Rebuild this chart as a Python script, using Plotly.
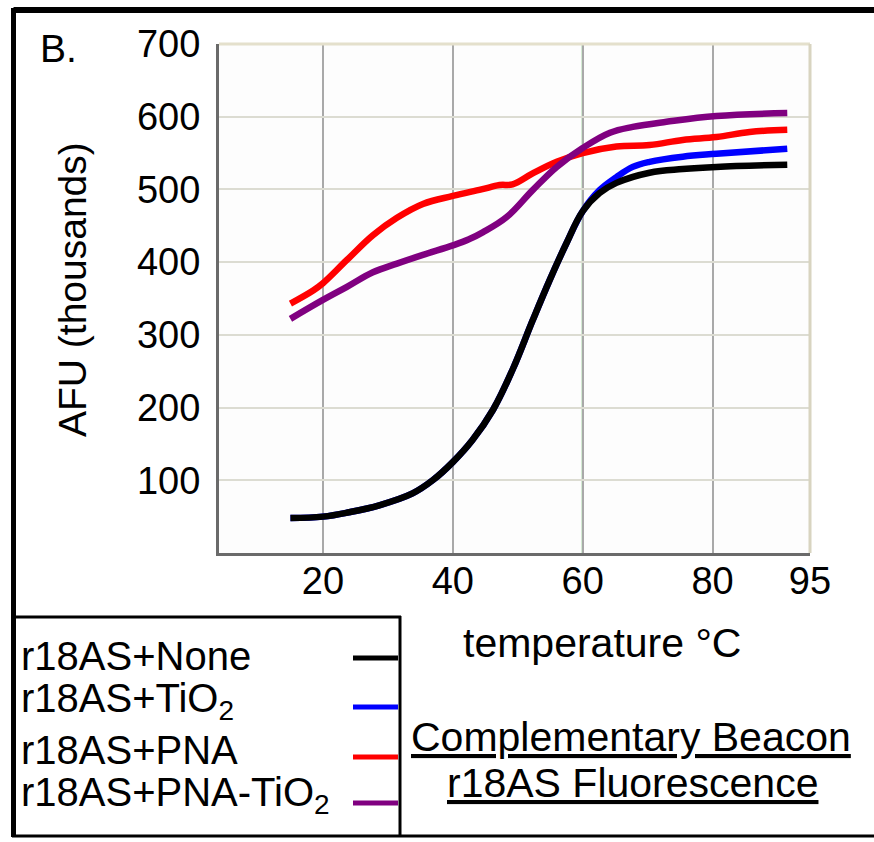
import plotly.graph_objects as go

# ---- data (temperature in °C, AFU in thousands) ----
none_x = [15, 20, 24, 28.8, 33.8, 36.9, 40, 43, 46.2, 49.2, 52.3, 54.9, 57.5, 60, 62.6, 65.2, 70.3, 75.4, 80.6, 91.5]
none_y = [48, 50, 56, 66, 82, 100, 125, 155, 197, 252, 320, 375, 426, 470, 495, 509, 523, 528, 531, 534]

tio2_x = [15, 20, 24, 28.8, 33.8, 36.9, 40, 43, 46.2, 49.2, 52.3, 54.9, 57.5, 60, 62.6, 65.2, 67.7, 70.3, 75.4, 80.6, 91.5]
tio2_y = [48, 50, 56, 66, 82, 100, 125, 155, 197, 252, 320, 375, 426, 470, 499, 517, 531, 538, 545, 549, 556]

pna_x = [15, 18.5, 20, 23.7, 27.7, 31.4, 35.4, 40, 44.4, 47.2, 49.2, 52.3, 56, 60, 65.2, 70.3, 75.4, 80.6, 85.7, 91.5]
pna_y = [343, 361, 371, 403, 437, 461, 480, 491, 500, 506, 507, 522, 538, 550, 559, 561, 568, 572, 579, 582]

pnatio2_x = [15, 20, 23.7, 27.7, 31.4, 35.4, 40, 42.4, 44.6, 48.3, 52.3, 56, 60, 64.2, 67.7, 72.9, 80.6, 91.5]
pnatio2_y = [322, 348, 366, 386, 398, 410, 423, 431, 441, 462, 499, 531, 557, 578, 586, 593, 601, 605]

series_names = ["r18AS+None", "r18AS+TiO<sub>2</sub>", "r18AS+PNA", "r18AS+PNA-TiO<sub>2</sub>"]
series_colors = ["#000000", "#0000ff", "#ff0000", "#800080"]

x_ticks = [20, 40, 60, 80, 95]
y_ticks = [100, 200, 300, 400, 500, 600, 700]

FONT = "Liberation Sans, Arial, sans-serif"
W, H = 874, 842
ML, MR, MT, MB = 219, 64, 44, 289
PW, PH = W - ML - MR, H - MT - MB


def px(xp):
    return (xp - ML) / PW


def py(yp):
    return (H - MB - yp) / PH


fig = go.Figure()
# draw order: blue under black, then red, then purple
order = [1, 0, 2, 3]
data = [(none_x, none_y), (tio2_x, tio2_y), (pna_x, pna_y), (pnatio2_x, pnatio2_y)]
for i in order:
    xs, ys = data[i]
    fig.add_trace(go.Scatter(x=xs, y=ys, mode="lines", name=series_names[i],
                             line=dict(color=series_colors[i], width=6.5, shape="spline", smoothing=1.1),
                             showlegend=False))

shapes = []
# green vertical gridline at 60
shapes.append(dict(type="line", xref="x", yref="paper", x0=60, x1=60, y0=0, y1=1,
                   line=dict(color="#7cc47c", width=2), layer="below"))
# top and right plot border (beige)
shapes.append(dict(type="line", xref="paper", yref="paper", x0=0, x1=1, y0=1, y1=1,
                   line=dict(color="#e4e0cc", width=3), layer="above"))
shapes.append(dict(type="line", xref="paper", yref="paper", x0=1, x1=1, y0=0, y1=1,
                   line=dict(color="#d8d4c0", width=3), layer="above"))
# outer frame
shapes.append(dict(type="line", xref="paper", yref="paper", x0=px(13.5), x1=px(874), y0=py(10), y1=py(10),
                   line=dict(color="black", width=6)))
shapes.append(dict(type="line", xref="paper", yref="paper", x0=px(13.5), x1=px(13.5), y0=py(8), y1=py(837),
                   line=dict(color="black", width=5)))
shapes.append(dict(type="line", xref="paper", yref="paper", x0=px(12), x1=px(874), y0=py(836), y1=py(836),
                   line=dict(color="black", width=3)))
# legend box
shapes.append(dict(type="line", xref="paper", yref="paper", x0=px(12), x1=px(401), y0=py(617), y1=py(617),
                   line=dict(color="black", width=3)))
shapes.append(dict(type="line", xref="paper", yref="paper", x0=px(400), x1=px(400), y0=py(616), y1=py(837),
                   line=dict(color="black", width=3)))

annotations = []
legend_text_y = [656, 701, 750, 795]
legend_line_y = [658, 707, 757, 803]
for i in range(4):
    annotations.append(dict(text=series_names[i], xref="paper", yref="paper",
                            x=px(19), y=py(legend_text_y[i]), xanchor="left", yanchor="middle",
                            showarrow=False, font=dict(family=FONT, size=40, color="black")))
    shapes.append(dict(type="line", xref="paper", yref="paper", x0=px(353), x1=px(398),
                       y0=py(legend_line_y[i]), y1=py(legend_line_y[i]),
                       line=dict(color=series_colors[i], width=5)))

annotations += [
    dict(text="B.", xref="paper", yref="paper", x=px(38), y=py(48), xanchor="left", yanchor="middle",
         showarrow=False, font=dict(family=FONT, size=39, color="black")),
    dict(text="AFU (thousands)", xref="paper", yref="paper", x=px(72), y=py(290), textangle=-90,
         xanchor="center", yanchor="middle", showarrow=False,
         font=dict(family=FONT, size=39, color="black")),
    dict(text="temperature °C", xref="paper", yref="paper", x=px(602), y=py(643),
         xanchor="center", yanchor="middle", showarrow=False,
         font=dict(family=FONT, size=41, color="black")),
    dict(text="<u>Complementary Beacon</u>", xref="paper", yref="paper", x=px(631), y=py(737),
         xanchor="center", yanchor="middle", showarrow=False,
         font=dict(family=FONT, size=41, color="black")),
    dict(text="<u>r18AS Fluorescence</u>", xref="paper", yref="paper", x=px(632), y=py(783),
         xanchor="center", yanchor="middle", showarrow=False,
         font=dict(family=FONT, size=41, color="black")),
]

fig.update_layout(
    width=W, height=H,
    margin=dict(l=ML, r=MR, t=MT, b=MB, pad=0),
    paper_bgcolor="white", plot_bgcolor="#fdfdfd",
    shapes=shapes, annotations=annotations,
    showlegend=False,
    xaxis=dict(range=[4, 95], tickvals=x_ticks, ticktext=[str(v) for v in x_ticks],
               showgrid=True, gridcolor="#a9a9a9", gridwidth=1.5,
               showline=True, linecolor="#6a6a6a", linewidth=3, zeroline=False,
               ticks="", ticklabelstandoff=-8,
               tickfont=dict(family=FONT, size=38, color="black")),
    yaxis=dict(range=[0, 700], tickvals=y_ticks, ticktext=[str(v) for v in y_ticks],
               showgrid=True, gridcolor="#dcdcd2", gridwidth=2,
               showline=True, linecolor="#6a6a6a", linewidth=3, zeroline=False,
               ticks="", ticklabelstandoff=8,
               tickfont=dict(family=FONT, size=38, color="black")),
)

fig.write_html("out.html")
